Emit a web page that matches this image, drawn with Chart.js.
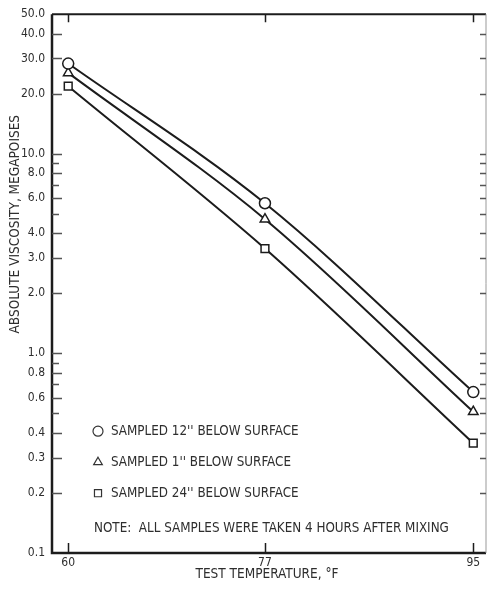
<!DOCTYPE html>
<html>
<head>
<meta charset="utf-8">
<script src="https://cdn.jsdelivr.net/npm/chart.js@4.4.1/dist/chart.umd.min.js"></script>
<style>
  html, body { margin: 0; padding: 0; background: #fff; }
  #wrap { width: 493px; height: 593px; }
</style>
</head>
<body>
<div id="wrap"><canvas id="viscChart" width="493" height="593"></canvas></div>
<script>
var temps = [60, 77, 95];
var sampled12 = [28.3, 5.65, 0.64];
var sampled1 = [25.4, 4.7, 0.51];
var sampled24 = [21.8, 3.35, 0.355];
var yTicks = [0.1, 0.2, 0.3, 0.4, 0.5, 0.6, 0.7, 0.8, 0.9, 1, 2, 3, 4, 5, 6, 7, 8, 9, 10, 20, 30, 40, 50];
var yLabels = { 0.1: '0.1', 0.2: '0.2', 0.3: '0.3', 0.4: '0.4', 0.6: '0.6', 0.8: '0.8', 1: '1.0', 2: '2.0', 3: '3.0', 4: '4.0', 6: '6.0', 8: '8.0', 10: '10.0', 20: '20.0', 30: '30.0', 40: '40.0', 50: '50.0' };
var legendItems = [
    { style: 'circle', text: "SAMPLED 12'' BELOW SURFACE" },
    { style: 'triangle', text: "SAMPLED 1'' BELOW SURFACE" },
    { style: 'rect', text: "SAMPLED 24'' BELOW SURFACE" }
];
var noteText = 'NOTE:  ALL SAMPLES WERE TAKEN 4 HOURS AFTER MIXING';
var xTitle = 'TEST TEMPERATURE, \u00B0F';
var yTitle = 'ABSOLUTE VISCOSITY, MEGAPOISES';

var FONT = '"DejaVu Sans Condensed", "Liberation Sans Narrow", sans-serif';
var INK = '#1c1c1c';
var TEXT = '#2e2e2e';

function series(vals) {
    return temps.map(function(t, i) { return { x: t, y: vals[i] }; });
}

function makeSet(label, vals, style) {
    return {
        label: label,
        data: series(vals),
        borderColor: INK,
        borderWidth: 2,
        cubicInterpolationMode: 'monotone',
        pointStyle: style,
        pointRadius: 5.5,
        pointBorderWidth: 1.5,
        pointBackgroundColor: '#fff',
        pointBorderColor: INK
    };
}

var frame = {
    id: 'frame',
    afterDraw: function(chart) {
        var ctx = chart.ctx, a = chart.chartArea;
        var xs = chart.scales.x, ys = chart.scales.y;
        ctx.save();
        ctx.strokeStyle = INK;
        // box
        ctx.lineWidth = 2.5;
        ctx.beginPath();
        ctx.moveTo(a.left, a.top);
        ctx.lineTo(a.left, a.bottom);
        ctx.lineTo(a.right, a.bottom);
        ctx.stroke();
        ctx.lineWidth = 2;
        ctx.beginPath();
        ctx.moveTo(a.left, a.top);
        ctx.lineTo(a.right, a.top);
        ctx.stroke();
        ctx.strokeStyle = '#999';
        ctx.lineWidth = 1;
        ctx.beginPath();
        ctx.moveTo(a.right, a.top);
        ctx.lineTo(a.right, a.bottom);
        ctx.stroke();
        // inward y ticks
        ctx.strokeStyle = '#555';
        ctx.lineWidth = 1.3;
        yTicks.forEach(function(v) {
            if (v === 0.1 || v === 50) return;
            var py = Math.round(ys.getPixelForValue(v)) + 0.5;
            var len = yLabels[v] ? 10 : 7;
            ctx.beginPath();
            ctx.moveTo(a.left, py);
            ctx.lineTo(a.left + len, py);
            ctx.moveTo(a.right, py);
            ctx.lineTo(a.right - 6, py);
            ctx.stroke();
        });
        // inward x ticks
        ctx.strokeStyle = INK;
        ctx.lineWidth = 1.5;
        temps.forEach(function(t) {
            var px = Math.round(xs.getPixelForValue(t)) + 0.5;
            ctx.beginPath();
            ctx.moveTo(px, a.bottom);
            ctx.lineTo(px, a.bottom - 10);
            ctx.moveTo(px, a.top);
            ctx.lineTo(px, a.top + 8);
            ctx.stroke();
        });
        // legend inside plot
        ctx.font = '13.3px ' + FONT;
        ctx.textBaseline = 'middle';
        var lx = a.left + 46, ly = a.top + 417;
        legendItems.forEach(function(item, i) {
            var yy = ly + i * 31;
            ctx.strokeStyle = '#333';
            ctx.fillStyle = '#fff';
            ctx.lineWidth = 1.2;
            Chart.helpers.drawPoint(ctx, { pointStyle: item.style, radius: 5, borderWidth: 1.2 }, lx, yy);
            ctx.fillStyle = TEXT;
            ctx.fillText(item.text, lx + 13, yy);
        });
        ctx.fillStyle = TEXT;
        ctx.fillText(noteText, a.left + 42, a.top + 514);
        // axis titles
        ctx.font = '13.5px ' + FONT;
        ctx.textAlign = 'center';
        ctx.fillText(xTitle, (a.left + a.right) / 2 - 2, a.bottom + 21);
        ctx.translate(15, a.top + 210);
        ctx.rotate(-Math.PI / 2);
        ctx.fillText(yTitle, 0, 0);
        ctx.restore();
    }
};

new Chart(document.getElementById('viscChart').getContext('2d'), {
    type: 'line',
    data: {
        datasets: [
            makeSet("SAMPLED 12'' BELOW SURFACE", sampled12, 'circle'),
            makeSet("SAMPLED 1'' BELOW SURFACE", sampled1, 'triangle'),
            makeSet("SAMPLED 24'' BELOW SURFACE", sampled24, 'rect')
        ]
    },
    options: {
        responsive: false,
        animation: false,
        layout: { padding: { top: 11, right: 2, left: 0, bottom: 0 } },
        plugins: {
            legend: { display: false },
            tooltip: { enabled: false }
        },
        scales: {
            x: {
                type: 'linear',
                min: 58.6,
                max: 96.1,
                afterBuildTicks: function(s) { s.ticks = temps.map(function(t) { return { value: t }; }); },
                afterFit: function(s) { s.height = 40; },
                grid: { display: false, drawTicks: false },
                border: { display: false },
                ticks: {
                    color: TEXT,
                    padding: 3,
                    font: { family: FONT, size: 12 },
                    callback: function(v) { return String(v); }
                }
            },
            y: {
                type: 'logarithmic',
                min: 0.1,
                max: 50,
                afterBuildTicks: function(s) { s.ticks = yTicks.map(function(v) { return { value: v }; }); },
                afterFit: function(s) { s.width = 52; },
                grid: { display: false, drawTicks: false },
                border: { display: false },
                ticks: {
                    color: TEXT,
                    padding: 7,
                    autoSkip: false,
                    font: { family: FONT, size: 12 },
                    callback: function(v) { return yLabels[v] || ''; }
                }
            }
        }
    },
    plugins: [frame]
});
</script>
</body>
</html>
